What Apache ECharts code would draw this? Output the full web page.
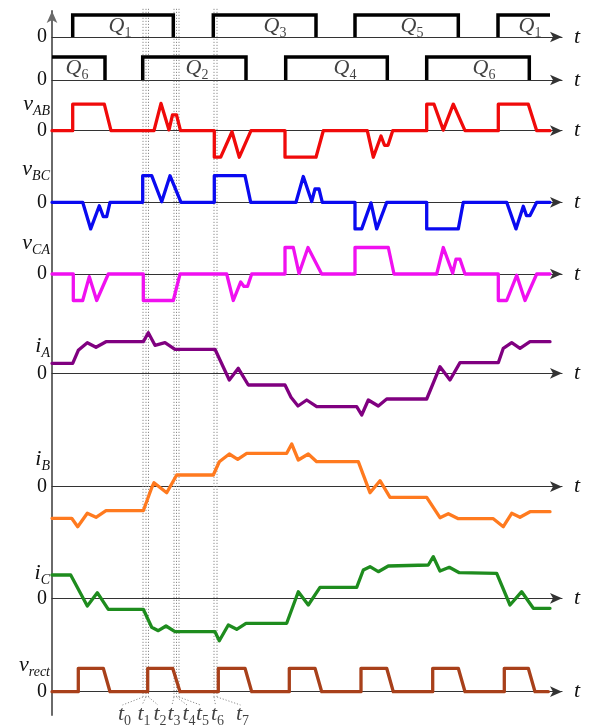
<!DOCTYPE html>
<html><head><meta charset="utf-8">
<script src="https://cdn.jsdelivr.net/npm/echarts@6/dist/echarts.min.js"></script>
<style>html,body{margin:0;padding:0;background:#fff}#c{width:589px;height:726px}</style>
</head><body><div id="c"></div>
<script>
// ---- data (time in arbitrary units, 0 at the vertical axis) ----
const T_END = 498;
// gate signals: initial level, switching instants
const row1Init = 0;
const row1Edges = [20.7, 121.3, 161.3, 264, 303, 406.3, 446];
const row1Names = ['1', '3', '5', '1'];
const row1At = [68, 223, 360, 478];
const row2Init = 1;
const row2Edges = [53, 90.7, 194, 233.7, 335.3, 374.7, 477.3];
const row2Names = ['6', '2', '4', '6'];
const row2At = [25, 145, 293, 432];

const vAB = [[0,0],[20.7,0],[20.7,1],[52.3,1],[59,0],[102,0],[109,1.03],[117,0.03],[120.5,0.6],[124.5,0.6],[128.5,0],[162.3,0],[162.3,-1],[168.7,-1],[180,-0.04],[187.3,-1],[199,0],[233,0],[233,-1],[264,-1],[271.3,0],[315.3,0],[321.3,-1],[329,-0.2],[332.5,-0.55],[336,-0.55],[340.7,0],[374.7,0],[374.7,1],[382,1],[391.3,0.02],[401.3,1],[413,0],[446.3,0],[446.3,1],[476.3,1],[484.7,0],[498,0]];
const vBC = [[0,0],[30.7,0],[38.7,-1],[47.3,-0.13],[51.3,-0.54],[54.7,-0.54],[58,0],[90.7,0],[90.7,1],[99.7,1],[109.7,0.02],[118,1],[129,0],[162.3,0],[162.3,1],[193,1],[198.7,0],[244,0],[251.3,0.97],[259.7,0.03],[263,0.5],[267,0.5],[270.3,0],[303,0],[303,-1],[309.7,-1],[319,-0.02],[324.7,-1],[334.7,0],[374.7,0],[374.7,-1],[406.3,-1],[411.3,0],[454.7,0],[464,-1],[471.3,-0.15],[474.5,-0.5],[478,-0.5],[484.7,0],[498,0]];
const vCA = [[0,0],[21.3,0],[21.3,-1],[30.7,-1],[37.3,-0.1],[44.7,-1],[56.3,0],[91.3,0],[91.3,-1],[121.3,-1],[128,0],[174.7,0],[181.3,-1],[188.7,-0.3],[192,-0.47],[195.5,-0.47],[199.7,0],[233,0],[233,1],[241.3,1],[247,0.02],[256,1],[269.7,0],[303,0],[303,1],[336.3,1],[342,0],[384.7,0],[391.3,1],[400.7,0.03],[404,0.56],[408,0.56],[413,0],[446.3,0],[446.3,-1],[454.7,-1],[464.7,-0.05],[473,-1],[484.7,0],[498,0]];
const iA = [[0,1.0],[20.7,1.0],[26.3,2.3],[35.3,3.06],[44,2.6],[54,3.16],[91.3,3.16],[96.3,4.05],[103,2.8],[113,3.06],[123,2.4],[163,2.4],[177.3,-0.67],[186.3,0.5],[196.3,-1.17],[233,-1.17],[239,-2.4],[246,-3.27],[254.7,-2.67],[264.7,-3.34],[304.7,-3.34],[309.7,-4.17],[316.3,-2.67],[326.3,-3.27],[334.7,-2.57],[374.7,-2.57],[388,0.66],[398,-0.67],[408,1.06],[446.3,1.06],[451.3,2.5],[459.7,3.06],[468,2.5],[478,3.16],[498,3.16]];
const iB = [[0,-3.16],[19.7,-3.16],[25.7,-4.0],[35.3,-2.66],[44,-3.06],[54,-2.4],[91.3,-2.4],[99.7,-0.1],[102,0.4],[114.7,-0.6],[124.7,1.17],[161.3,1.17],[167.3,2.5],[177.3,3.27],[185.7,2.74],[194.7,3.34],[234.7,3.34],[239.7,4.27],[246.3,2.67],[256.3,3.27],[264.7,2.5],[306.3,2.5],[318,-0.6],[328,0.6],[338,-1.06],[374.7,-1.06],[388,-3.1],[396.3,-2.7],[406.3,-3.2],[441.3,-3.2],[451.3,-4.0],[459.7,-2.66],[468,-3.06],[478,-2.5],[498,-2.5]];
const iC = [[0,2.33],[18.7,2.33],[35.3,-0.77],[45.3,0.56],[56.3,-1.1],[91.3,-1.1],[99.7,-2.9],[106.3,-3.24],[114,-2.77],[123,-3.34],[163,-3.34],[167.3,-4.24],[176.3,-2.67],[184.7,-3.1],[194,-2.5],[234.7,-2.5],[246.3,0.66],[256.3,-0.67],[268,1.1],[304.7,1.1],[311.3,2.83],[318,3.16],[326.3,2.66],[336.3,3.23],[376.3,3.33],[381.3,4.16],[388,2.73],[397.3,3.1],[407.3,2.56],[444.7,2.5],[458,-0.67],[469.7,0.66],[481.3,-1.0],[498,-1.0]];
const vRect = [[0,0],[26.3,0],[26.3,1],[51.3,1],[58,0],[95.7,0],[95.7,1],[120.7,1],[128,0],[166.3,0],[166.3,1],[193,1],[199.7,0],[237.3,0],[237.3,1],[263,1],[269.7,0],[309,0],[309,1],[334.7,1],[341.3,0],[380.7,0],[380.7,1],[406.3,1],[413,0],[452.3,0],[452.3,1],[476.3,1],[483,0],[496.3,0]];
// event instants t0..t7
const tNames = ['0','1','2','3','4','5','6','7'];
const tEvents = [91, 94, 96.5, 122, 124.5, 127, 162, 165];

// ---- layout ----
const FF = '"Liberation Serif","DejaVu Serif",serif';
const LEFT = 52, WIDTH = 510, X_MAX = 510;
const tLabelPos = [72.5, 92, 108, 122, 137, 150.5, 165.5, 190.5];
const rich = {
  m: {fontFamily: FF, fontStyle: 'italic', fontSize: 22, color: '#111', padding: [0,0,3,0], verticalAlign: 'top'},
  s: {fontFamily: FF, fontStyle: 'italic', fontSize: 14, color: '#111', verticalAlign: 'bottom'},
  d: {fontFamily: FF, fontSize: 14, color: '#111', verticalAlign: 'bottom'}
};

const option = {animation: false, backgroundColor: '#fff', grid: [], xAxis: [], yAxis: [], series: []};
function addGrid(top, height, xExtra, yExtra) {
  const i = option.grid.length;
  option.grid.push({left: LEFT, top: top, width: WIDTH, height: height});
  option.xAxis.push(Object.assign({type: 'value', gridIndex: i, min: 0, max: X_MAX, show: false}, xExtra || {}));
  option.yAxis.push(Object.assign({type: 'value', gridIndex: i, show: false, min: 0, max: 1}, yExtra || {}));
  return i;
}

// main vertical axis
addGrid(11, 704, {max: 1}, {
  show: true, min: 0, max: 1,
  axisLine: {show: true, onZero: true, symbol: ['none', 'arrow'], symbolSize: [8, 12], lineStyle: {color: '#6a6a6a', width: 2}},
  axisTick: {show: false}, axisLabel: {show: false}, splitLine: {show: false}
});

// dotted event lines
const gDot = addGrid(7, 690);
tEvents.forEach(t => option.series.push({
  type: 'line', xAxisIndex: gDot, yAxisIndex: gDot, data: [[t, 0], [t, 1]], symbol: 'none', silent: true, z: 1,
  lineStyle: {color: '#8c8c8c', width: 1, type: [1.2, 1.8]}
}));
// leaders + labels
const gLead = addGrid(697, 25, {}, {min: -1.5, max: 1});
tEvents.forEach((t, k) => option.series.push({
  type: 'line', xAxisIndex: gLead, yAxisIndex: gLead, data: [[t, 1], [tLabelPos[k] - 2, 0.2]], symbol: 'none', silent: true, z: 1,
  lineStyle: {color: '#8c8c8c', width: 1, type: [1.2, 1.8]}
}));
option.series.push({
  type: 'scatter', xAxisIndex: gLead, yAxisIndex: gLead, symbolSize: 1, itemStyle: {color: 'rgba(0,0,0,0)'}, silent: true,
  data: tLabelPos.map(x => [x, -0.9]),
  label: {show: true, position: 'inside', formatter: p => '{m|t}{d|' + tNames[p.dataIndex] + '}', rich: rich}
});

function panel(cfg) {
  const top = cfg.z - cfg.max * cfg.s, height = (cfg.max - cfg.min) * cfg.s;
  const y = {
    show: true, min: cfg.min, max: cfg.max, interval: cfg.iv,
    axisLine: {show: false}, axisTick: {show: false}, splitLine: {show: false},
    axisLabel: {show: true, margin: 5, formatter: v => Math.abs(v) < 1e-6 ? '0' : '', fontFamily: FF, fontSize: 20, color: '#111'}
  };
  if (cfg.name) {
    y.name = '{m|' + cfg.name[0] + '}{s|' + cfg.name[1] + '}';
    y.nameLocation = 'end';
    y.nameGap = top - cfg.nameY;
    y.nameTextStyle = {align: 'right', verticalAlign: 'middle', padding: [0, 2, 0, 0], rich: rich};
  }
  const x = {
    show: true,
    axisLine: {show: true, onZero: true, symbol: ['none', 'arrow'], symbolSize: [8, 12], lineStyle: {color: '#333', width: 1.2}},
    axisTick: {show: false}, axisLabel: {show: false}, splitLine: {show: false},
    name: 't', nameLocation: 'end', nameGap: 12,
    nameTextStyle: {fontFamily: FF, fontStyle: 'italic', fontSize: 22, color: '#111'}
  };
  return addGrid(top, height, x, y);
}

function pulseSegments(init, edges, end) {
  const segs = []; let level = init; let cur = level ? [[0, 1]] : null;
  edges.forEach(e => {
    if (level) { cur.push([e, 1], [e, 0]); segs.push(cur); cur = null; level = 0; }
    else { cur = [[e, 0], [e, 1]]; level = 1; }
  });
  if (level && cur) { cur.push([end, 1]); segs.push(cur); }
  return segs;
}
function gateRow(gi, init, edges, names, at, labelY) {
  pulseSegments(init, edges, T_END).forEach(seg => option.series.push({
    type: 'line', xAxisIndex: gi, yAxisIndex: gi, data: seg, symbol: 'none', silent: true, z: 3,
    lineStyle: {color: '#000', width: 3.5, join: 'miter'}
  }));
  option.series.push({
    type: 'scatter', xAxisIndex: gi, yAxisIndex: gi, symbolSize: 1, itemStyle: {color: 'rgba(0,0,0,0)'}, silent: true, z: 4,
    data: at.map(x => [x, labelY]),
    label: {show: true, position: 'inside', formatter: p => '{m|Q}{d|' + names[p.dataIndex] + '}', rich: rich}
  });
}
function wave(gi, data, color) {
  option.series.push({
    type: 'line', xAxisIndex: gi, yAxisIndex: gi, data: data, symbol: 'none', silent: true, z: 3,
    lineStyle: {color: color, width: 3.3, join: 'round', cap: 'round'}
  });
}

const g1 = panel({z: 37, s: 22, min: -0.4, max: 1.2, iv: 0.4});
gateRow(g1, row1Init, row1Edges, row1Names, row1At, 0.41);
const g2 = panel({z: 80, s: 23, min: -0.4, max: 1.2, iv: 0.4});
gateRow(g2, row2Init, row2Edges, row2Names, row2At, 0.43);
wave(panel({z: 130.7, s: 26.5, min: -1.3, max: 1.3, iv: 1.3, name: ['v', 'AB'], nameY: 106}), vAB, '#f00a0a');
wave(panel({z: 202.3, s: 26.6, min: -1.3, max: 1.3, iv: 1.3, name: ['v', 'BC'], nameY: 171}), vBC, '#0a0af0');
wave(panel({z: 274, s: 26.5, min: -1.3, max: 1.3, iv: 1.3, name: ['v', 'CA'], nameY: 245}), vCA, '#f010f0');
wave(panel({z: 373.3, s: 10, min: -4.8, max: 4.8, iv: 4.8, name: ['i', 'A'], nameY: 348}), iA, '#800080');
wave(panel({z: 486.7, s: 10, min: -4.8, max: 4.8, iv: 4.8, name: ['i', 'B'], nameY: 461}), iB, '#ff7a1f');
wave(panel({z: 598.3, s: 10, min: -4.8, max: 4.8, iv: 4.8, name: ['i', 'C'], nameY: 575}), iC, '#1e8c1e');
wave(panel({z: 691.7, s: 23.4, min: -0.4, max: 1.2, iv: 0.4, name: ['v', 'rect'], nameY: 667}), vRect, '#a8401a');

const chart = echarts.init(document.getElementById('c'), null, {renderer: 'canvas'});
chart.setOption(option);
</script></body></html>
